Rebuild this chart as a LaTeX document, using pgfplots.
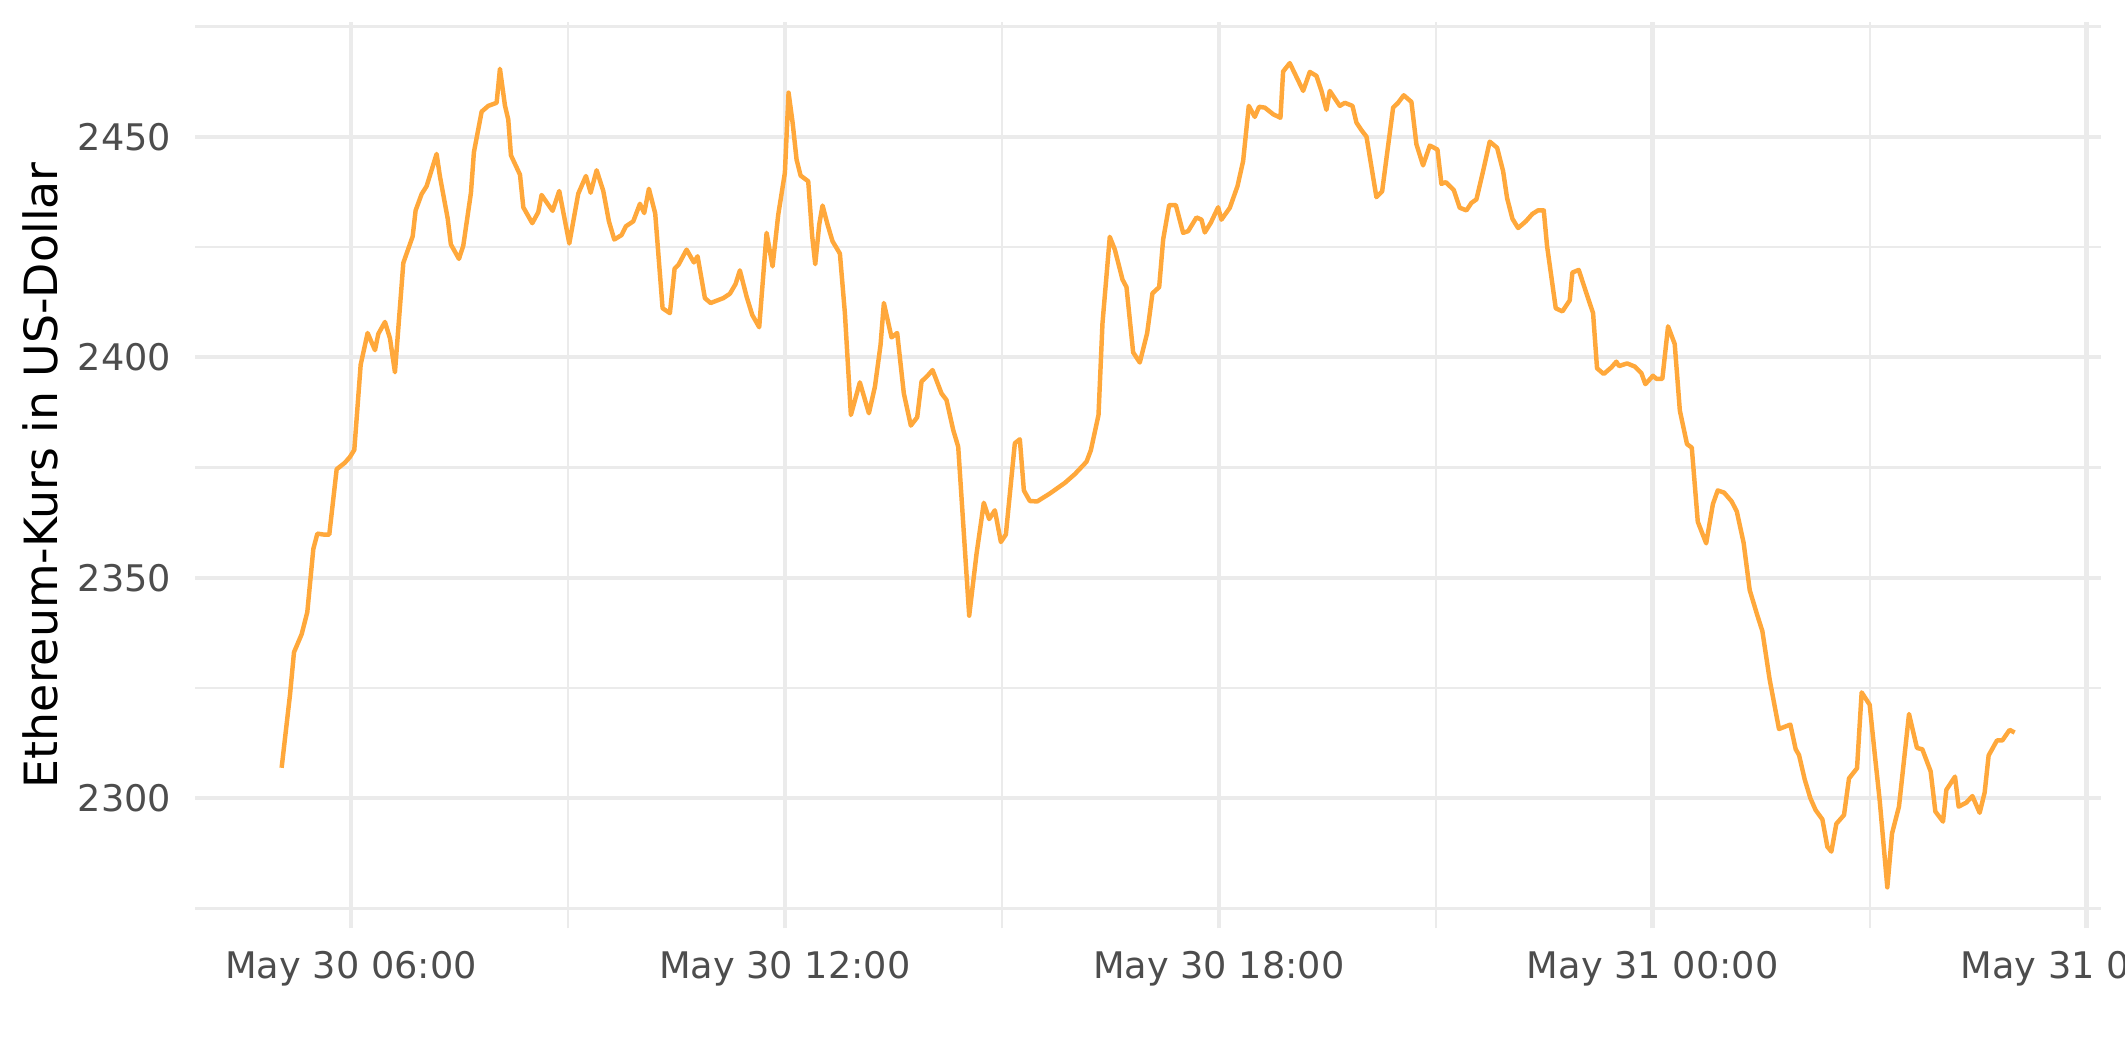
\documentclass[border=0pt]{standalone}
\usepackage{pgfplots}
\pgfplotsset{compat=1.18}
\usepackage{fontspec}
\setmainfont{DejaVu Sans}
\definecolor{ethline}{HTML}{FFA83B}
\definecolor{gridc}{HTML}{EBEBEB}
\definecolor{tickc}{HTML}{4D4D4D}
\begin{document}
\begin{tikzpicture}
\path[use as bounding box] (-46.8bp,-32.1bp) rectangle (463.2bp,222.8bp);
\begin{axis}[
  at={(0,0)}, anchor=south west,
  scale only axis, width=457.44bp, height=217.5bp,
  xmin=3.843, xmax=30.20, ymin=2270.5, ymax=2476.0,
  xtick={6,12,18,24,30},
  xticklabels={May 30 06:00, May 30 12:00, May 30 18:00, May 31 00:00, May 31 06:00},
  minor xtick={9,15,21,27},
  ytick={2300,2350,2400,2450},
  yticklabels={2300,2350,2400,2450},
  minor ytick={2275,2325,2375,2425,2475},
  grid=both,
  major grid style={draw=gridc, line width=1.07bp},
  minor grid style={draw=gridc, line width=0.53bp},
  axis line style={draw=none},
  major tick length=0pt, minor tick length=0pt,
  tick style={draw=none},
  /pgf/number format/assume math mode=true,
  xticklabel style={font=\fontsize{8.8bp}{10bp}\selectfont, text=tickc, inner sep=0pt, anchor=north, yshift=-5.2bp},
  yticklabel style={font=\fontsize{8.8bp}{10bp}\selectfont, text=tickc, inner sep=0pt, anchor=east, xshift=-5.5bp},
  ylabel={Ethereum-Kurs in US-Dollar},
  ylabel style={font=\fontsize{11bp}{13bp}\selectfont, text=black, inner sep=0pt, at={(axis description cs:-0.0813,0.5)}, anchor=center},
]
\addplot[ethline, line width=1.07bp, line join=round, mark=none] table {
x y
5.041 2306.9
5.157 2323.5
5.212 2333.1
5.318 2337.2
5.396 2342.2
5.479 2356.5
5.535 2360.0
5.618 2359.8
5.700 2359.8
5.802 2374.6
5.917 2376.1
5.986 2377.4
6.046 2379.0
6.134 2398.3
6.230 2405.5
6.332 2401.6
6.378 2405.3
6.470 2408.0
6.539 2404.3
6.608 2396.6
6.724 2421.4
6.853 2427.4
6.894 2433.3
6.977 2437.0
7.046 2438.8
7.184 2446.1
7.230 2441.0
7.338 2431.4
7.381 2425.6
7.493 2422.3
7.553 2425.3
7.659 2437.3
7.700 2446.5
7.807 2455.7
7.899 2457.0
8.014 2457.7
8.060 2465.4
8.129 2457.1
8.175 2453.9
8.212 2445.8
8.337 2441.4
8.383 2434.0
8.507 2430.4
8.590 2432.9
8.636 2436.8
8.728 2434.6
8.788 2433.2
8.880 2437.7
9.019 2425.8
9.143 2437.1
9.249 2441.1
9.314 2437.3
9.397 2442.4
9.489 2437.7
9.567 2430.8
9.641 2426.7
9.742 2427.7
9.802 2429.7
9.903 2430.8
9.996 2434.8
10.055 2432.7
10.120 2438.2
10.207 2432.6
10.309 2411.1
10.410 2410.0
10.475 2420.1
10.530 2421.0
10.641 2424.4
10.742 2421.5
10.793 2422.9
10.894 2413.4
10.973 2412.3
11.148 2413.4
11.240 2414.4
11.318 2416.6
11.378 2419.7
11.470 2413.8
11.549 2409.6
11.645 2406.8
11.747 2428.2
11.830 2420.6
11.908 2432.3
12.000 2441.8
12.051 2460.0
12.107 2453.2
12.162 2444.8
12.217 2441.2
12.323 2439.9
12.378 2427.4
12.420 2421.1
12.475 2430.1
12.521 2434.4
12.590 2430.1
12.659 2426.3
12.761 2423.5
12.830 2410.0
12.913 2386.9
13.037 2394.3
13.162 2387.3
13.245 2393.3
13.323 2402.8
13.369 2412.3
13.475 2404.5
13.553 2405.5
13.645 2391.8
13.742 2384.5
13.830 2386.4
13.890 2394.5
13.973 2395.8
14.042 2397.1
14.166 2391.8
14.235 2390.3
14.328 2383.5
14.397 2379.7
14.549 2341.4
14.651 2355.5
14.751 2367.0
14.825 2363.3
14.904 2365.3
14.987 2358.1
15.056 2359.8
15.180 2380.5
15.249 2381.4
15.305 2369.8
15.387 2367.4
15.489 2367.3
15.664 2369.1
15.871 2371.5
16.010 2373.5
16.171 2376.3
16.231 2378.9
16.337 2386.9
16.392 2407.7
16.493 2427.3
16.563 2424.4
16.669 2417.6
16.724 2415.9
16.816 2401.1
16.908 2398.8
17.010 2405.5
17.083 2414.5
17.176 2415.9
17.231 2426.7
17.314 2434.5
17.406 2434.5
17.507 2428.2
17.577 2428.6
17.692 2431.7
17.761 2431.2
17.807 2428.3
17.890 2430.5
17.991 2434.0
18.037 2431.2
18.153 2433.9
18.259 2438.8
18.337 2444.5
18.415 2457.0
18.498 2454.5
18.558 2456.8
18.637 2456.6
18.752 2455.1
18.853 2454.3
18.890 2464.8
18.982 2466.7
19.167 2460.4
19.259 2464.7
19.351 2463.8
19.420 2460.4
19.489 2456.1
19.535 2460.4
19.674 2457.0
19.743 2457.7
19.849 2457.0
19.904 2453.2
19.973 2451.5
20.043 2450.0
20.180 2436.3
20.259 2437.6
20.411 2456.6
20.480 2457.7
20.558 2459.4
20.664 2457.9
20.733 2448.3
20.825 2443.5
20.918 2448.0
21.024 2447.1
21.079 2439.3
21.139 2439.7
21.250 2437.9
21.332 2433.9
21.425 2433.3
21.494 2435.0
21.563 2435.8
21.655 2442.2
21.747 2448.9
21.849 2447.5
21.932 2442.2
21.987 2436.1
22.061 2431.4
22.139 2429.3
22.245 2430.8
22.337 2432.5
22.415 2433.3
22.494 2433.3
22.540 2425.2
22.660 2411.1
22.752 2410.4
22.853 2412.9
22.890 2419.2
22.978 2419.8
23.084 2414.5
23.176 2410.0
23.231 2397.5
23.323 2396.2
23.429 2397.7
23.498 2399.0
23.535 2398.0
23.646 2398.6
23.752 2397.9
23.844 2396.4
23.899 2393.9
24.005 2395.8
24.051 2395.1
24.134 2395.1
24.213 2407.0
24.305 2403.0
24.376 2387.9
24.475 2380.3
24.541 2379.5
24.624 2362.7
24.740 2357.8
24.833 2366.7
24.900 2369.8
24.988 2369.3
25.093 2367.3
25.164 2365.0
25.258 2357.9
25.342 2347.2
25.443 2341.7
25.517 2337.9
25.618 2326.9
25.747 2315.7
25.904 2316.7
25.978 2311.1
26.024 2309.8
26.102 2304.3
26.181 2300.0
26.254 2297.3
26.347 2295.2
26.416 2289.0
26.471 2287.9
26.540 2294.2
26.646 2296.2
26.715 2304.5
26.826 2306.8
26.890 2324.0
27.001 2321.2
27.070 2310.2
27.139 2299.6
27.245 2279.8
27.310 2292.0
27.406 2298.1
27.545 2319.1
27.655 2311.4
27.729 2311.1
27.844 2306.1
27.909 2297.0
28.015 2294.7
28.061 2301.9
28.181 2304.9
28.231 2298.1
28.337 2299.0
28.421 2300.5
28.522 2296.7
28.591 2301.3
28.646 2309.7
28.761 2313.1
28.835 2313.1
28.936 2315.5
29.006 2314.9
};
\end{axis}
\end{tikzpicture}
\end{document}
